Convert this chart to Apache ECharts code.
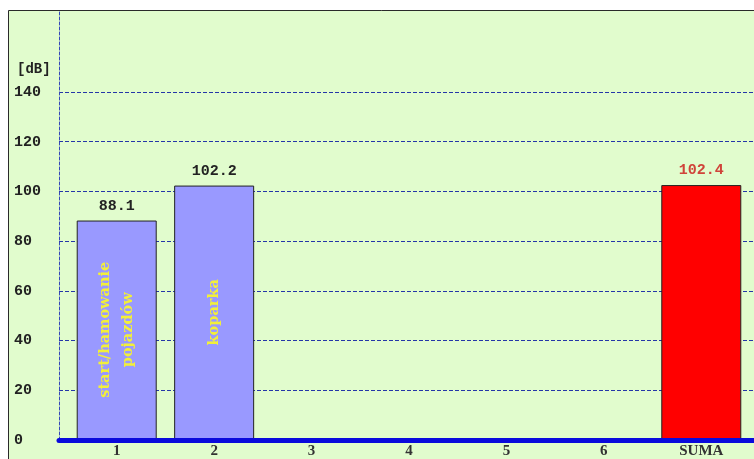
<!DOCTYPE html>
<html>
<head>
<meta charset="utf-8">
<script src="https://cdn.jsdelivr.net/npm/echarts@6/dist/echarts.min.js"></script>
<style>html,body{margin:0;padding:0;background:#fff}#c{width:754px;height:459px}</style>
</head>
<body>
<div id="c"></div>
<script>
var categories = ['1', '2', '3', '4', '5', '6', 'SUMA'];
var values = [88.1, 102.2, null, null, null, null, 102.4];
var sourceNames = ['start/hamowanie\npojazdów', 'koparka', '', '', '', '', ''];
var yTicks = [0, 20, 40, 60, 80, 100, 120, 140];
var yUnit = '[dB]';

var chart = echarts.init(document.getElementById('c'));
var yMax = 173;
var maxTick = yTicks[yTicks.length - 1];
var gridColors = [];
for (var v = 0; v <= yMax; v += 20) {
  gridColors.push(v === 0 || v > maxTick ? 'rgba(0,0,0,0)' : '#2436a8');
}
gridColors.push('rgba(0,0,0,0)');

var barData = values.map(function (val, i) {
  var isSum = categories[i] === 'SUMA';
  return {
    value: val,
    itemStyle: { color: isSum ? '#ff0000' : '#9999ff', borderColor: '#222', borderWidth: 1 },
    label: { color: isSum ? '#d0443a' : '#222' }
  };
});

chart.setOption({
  backgroundColor: '#ffffff',
  animation: false,
  title: {
    text: yUnit, left: 12, top: 57,
    textStyle: { fontFamily: 'Liberation Mono', fontWeight: 'bold', fontSize: 14, color: '#222' }
  },
  graphic: [{
    type: 'rect', z: -10, silent: true,
    shape: { x: 8.5, y: 10.5, width: 800, height: 500 },
    style: { fill: '#e1fccd', stroke: '#2a2a2a', lineWidth: 1 }
  }],
  grid: [
    { left: 59, right: 0, top: 10, bottom: 19 },
    { left: 68, right: 4, top: 10, bottom: 19 }
  ],
  xAxis: [
    {
      gridIndex: 0, type: 'category', data: [''], z: 5,
      axisLine: { lineStyle: { color: '#0a0adc', width: 5 } },
      axisTick: { show: false }, axisLabel: { show: false }, splitLine: { show: false }
    },
    {
      gridIndex: 1, type: 'category', data: categories,
      axisLine: { show: false }, axisTick: { show: false },
      axisLabel: { margin: 5, fontFamily: 'Liberation Serif', fontWeight: 'bold', fontSize: 15, color: '#333' }
    }
  ],
  yAxis: [
    {
      gridIndex: 0, type: 'value', min: 0, max: yMax, interval: 20,
      axisLine: { show: true, lineStyle: { color: '#3448b8', type: [3, 2], width: 1 } },
      axisTick: { show: false },
      axisLabel: {
        align: 'left', margin: 45,
        fontFamily: 'Liberation Mono', fontWeight: 'bold', fontSize: 15, color: '#222',
        formatter: function (v) { return yTicks.indexOf(v) >= 0 ? String(v) : ''; }
      },
      splitLine: { show: true, lineStyle: { color: gridColors, type: [4, 2], width: 1 } }
    },
    {
      gridIndex: 1, type: 'value', min: 0, max: yMax, interval: 20, show: false,
      splitLine: { show: false }
    }
  ],
  series: [
    {
      type: 'bar', xAxisIndex: 1, yAxisIndex: 1, barWidth: 80, z: 2,
      data: barData,
      label: {
        show: true, position: 'top', distance: 7,
        fontFamily: 'Liberation Mono', fontWeight: 'bold', fontSize: 15,
        formatter: function (p) { return p.value == null ? '' : p.value.toFixed(1); }
      }
    },
    {
      type: 'bar', xAxisIndex: 1, yAxisIndex: 1, barWidth: 80, barGap: '-100%', z: 3,
      data: values.map(function (val) { return val; }),
      itemStyle: { color: 'rgba(0,0,0,0)' },
      silent: true,
      label: {
        show: true, position: 'inside', rotate: 90,
        fontFamily: 'DejaVu Serif', fontWeight: 'bold', fontSize: 14.5, lineHeight: 23,
        color: '#f2ef3a',
        formatter: function (p) { return sourceNames[p.dataIndex]; }
      }
    }
  ]
});
</script>
</body>
</html>
